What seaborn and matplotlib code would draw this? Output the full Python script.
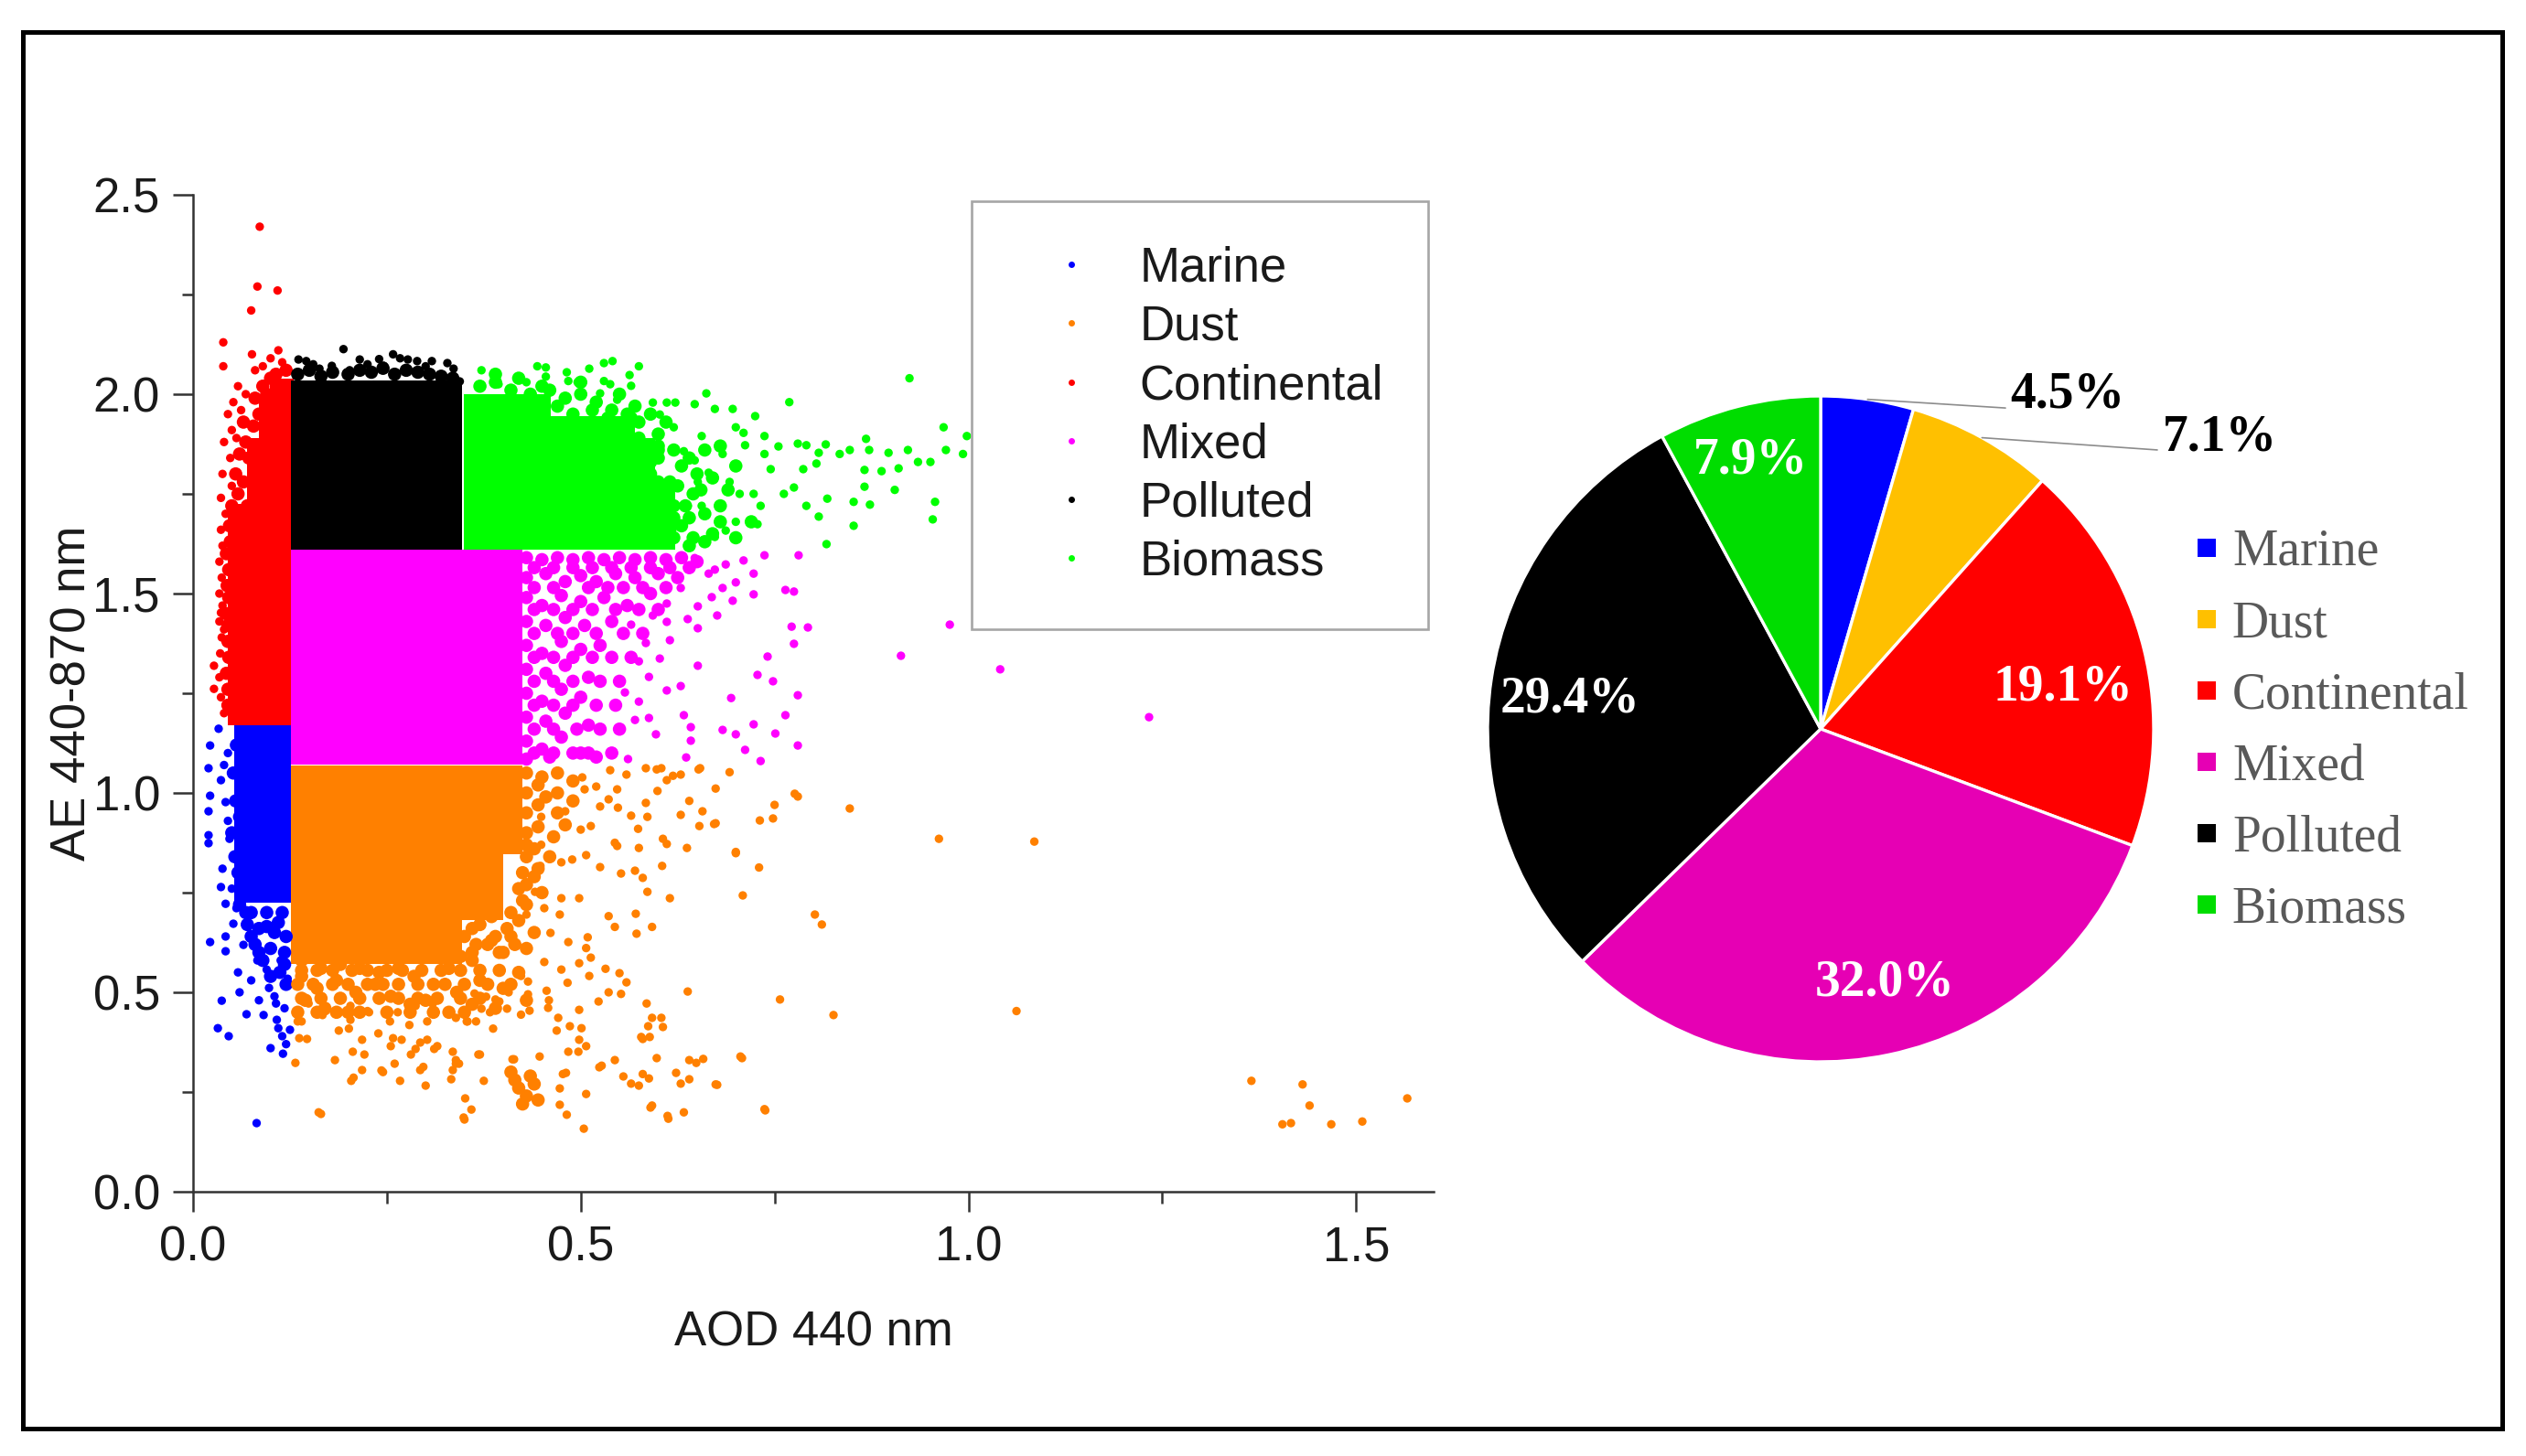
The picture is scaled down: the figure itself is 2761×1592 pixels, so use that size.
import matplotlib
matplotlib.use("Agg")
import numpy as np
import matplotlib.pyplot as plt
from matplotlib.lines import Line2D
from matplotlib.patches import Rectangle
from matplotlib.ticker import MultipleLocator
import pandas as pd
import seaborn as sns

# ---------------- data ----------------
classes = ["Marine", "Dust", "Continental", "Mixed", "Polluted", "Biomass"]
pie_share = [4.5, 7.1, 19.1, 32.0, 29.4, 7.9]
pie_text = ["4.5%", "7.1%", "19.1%", "32.0%", "29.4%", "7.9%"]
x_ticks = [0.0, 0.5, 1.0, 1.5]
y_ticks = [0.0, 0.5, 1.0, 1.5, 2.0, 2.5]

marine_core = [([0.068, 0.093, 0.111], [1.14, 1.085, 1.03, 0.975, 0.92, 0.865, 0.81, 0.755])]
continental_core = [([0.06, 0.085, 0.111], [1.20, 1.255, 1.31, 1.365, 1.42, 1.475, 1.53, 1.585, 1.64, 1.695]),
                    ([0.085, 0.111], [1.75, 1.805, 1.86]),
                    ([0.1, 0.114], [1.915, 1.97]),
                    ([0.114], [2.01])]
polluted_core = [([0.142, 0.169, 0.196, 0.223, 0.25, 0.277, 0.304, 0.332],
                  [1.64, 1.695, 1.75, 1.805, 1.86, 1.915, 1.97, 2.005])]
biomass_core = [([0.365, 0.392, 0.419, 0.446, 0.473, 0.5, 0.527, 0.554, 0.58], [1.64, 1.695, 1.75, 1.805, 1.86]),
                ([0.365, 0.392, 0.419, 0.446, 0.473, 0.5, 0.527, 0.554], [1.915]),
                ([0.365, 0.392, 0.419, 0.446], [1.97]),
                ([0.607], [1.64, 1.695, 1.75])]
mixed_core = [([0.142, 0.169, 0.196, 0.223, 0.25, 0.277, 0.304, 0.331, 0.358, 0.385, 0.41],
               [1.10, 1.155, 1.21, 1.265, 1.32, 1.375, 1.43, 1.485, 1.54, 1.58])]
dust_core = [([0.142, 0.169, 0.196, 0.223, 0.25, 0.277, 0.304, 0.331, 0.358, 0.385, 0.41], [1.04, 0.985, 0.93, 0.875]),
             ([0.142, 0.169, 0.196, 0.223, 0.25, 0.277, 0.304, 0.331, 0.358, 0.385], [0.82, 0.765, 0.71]),
             ([0.142, 0.169, 0.196, 0.223, 0.25, 0.277, 0.304, 0.331], [0.655, 0.60])]

# textured (medium density) zones
marine_dense = [(0.056, 1.12), (0.052, 1.05), (0.055, 0.98), (0.05, 0.9), (0.054, 0.84), (0.06, 0.72), (0.075, 0.70),
                (0.095, 0.70), (0.115, 0.70), (0.085, 0.66), (0.105, 0.65), (0.12, 0.64), (0.07, 0.67), (0.1, 0.61),
                (0.118, 0.6), (0.09, 0.58), (0.112, 0.55), (0.12, 0.52), (0.08, 0.62), (0.065, 0.77), (0.058, 0.8),
                (0.06, 0.94), (0.062, 1.0), (0.075, 0.64), (0.095, 0.665), (0.11, 0.675), (0.118, 0.57),
                (0.1, 0.54), (0.085, 0.6), (0.068, 0.7)]
continental_dense = [(0.045, 1.22), (0.043, 1.3), (0.045, 1.38), (0.042, 1.45), (0.044, 1.52), (0.043, 1.6),
                     (0.047, 1.67), (0.05, 1.72), (0.058, 1.75), (0.065, 1.78), (0.055, 1.8), (0.06, 1.85),
                     (0.068, 1.88), (0.072, 1.84), (0.078, 1.92), (0.085, 1.95), (0.08, 1.99), (0.09, 2.02),
                     (0.095, 2.0), (0.1, 2.04), (0.107, 2.05), (0.12, 2.06), (0.065, 1.93), (0.07, 1.72),
                     (0.045, 1.26), (0.046, 1.34), (0.045, 1.42), (0.046, 1.49), (0.046, 1.56), (0.048, 1.63)]
polluted_dense = [(0.135, 2.05), (0.15, 2.06), (0.165, 2.045), (0.18, 2.055), (0.2, 2.05), (0.215, 2.06),
                  (0.23, 2.055), (0.245, 2.065), (0.26, 2.05), (0.275, 2.06), (0.29, 2.055), (0.305, 2.05),
                  (0.32, 2.045), (0.335, 2.04)]
biomass_dense = [(0.37, 2.02), (0.39, 2.03), (0.41, 2.01), (0.435, 2.0), (0.46, 2.01), (0.48, 1.99), (0.5, 2.0),
                 (0.52, 1.98), (0.54, 1.96), (0.56, 1.95), (0.575, 1.93), (0.6, 1.9), (0.62, 1.86), (0.63, 1.82),
                 (0.625, 1.77), (0.635, 1.72), (0.63, 1.67), (0.645, 1.64), (0.66, 1.7), (0.655, 1.76), (0.65, 1.8),
                 (0.6, 1.84), (0.59, 1.8), (0.67, 1.65), (0.68, 1.68), (0.61, 1.93), (0.615, 1.66), (0.64, 1.69),
                 (0.62, 1.72), (0.645, 1.75), (0.615, 1.78), (0.64, 1.84), (0.66, 1.86), (0.6, 1.87), (0.59, 1.95),
                 (0.57, 1.97), (0.55, 2.0), (0.5, 2.03), (0.45, 2.02), (0.42, 2.04), (0.39, 2.05), (0.68, 1.72),
                 (0.69, 1.76), (0.67, 1.79), (0.7, 1.82), (0.68, 1.87), (0.7, 1.64), (0.72, 1.68), (0.66, 1.63),
                 (0.64, 1.62), (0.47, 1.97), (0.49, 1.95), (0.515, 1.96), (0.535, 1.94), (0.555, 1.92),
                 (0.59, 1.83), (0.6, 1.78), (0.575, 1.89), (0.565, 1.94), (0.6, 1.86), (0.62, 1.64), (0.62, 1.69)]
mixed_dense = [(0.43, 1.59), (0.45, 1.585), (0.47, 1.59), (0.49, 1.585), (0.51, 1.59), (0.53, 1.585), (0.55, 1.59),
               (0.57, 1.585), (0.59, 1.59), (0.61, 1.585), (0.63, 1.59), (0.65, 1.58), (0.43, 1.54), (0.455, 1.55),
               (0.48, 1.53), (0.5, 1.545), (0.52, 1.53), (0.545, 1.55), (0.57, 1.54), (0.6, 1.55), (0.625, 1.54),
               (0.43, 1.49), (0.45, 1.47), (0.475, 1.495), (0.5, 1.48), (0.53, 1.49), (0.56, 1.47), (0.59, 1.5),
               (0.43, 1.43), (0.455, 1.42), (0.48, 1.44), (0.505, 1.42), (0.54, 1.43), (0.43, 1.37), (0.45, 1.35),
               (0.475, 1.38), (0.5, 1.36), (0.525, 1.37), (0.43, 1.31), (0.455, 1.3), (0.48, 1.32), (0.51, 1.29),
               (0.43, 1.25), (0.45, 1.23), (0.475, 1.26), (0.5, 1.24), (0.43, 1.19), (0.455, 1.18), (0.48, 1.2),
               (0.51, 1.17), (0.43, 1.13), (0.45, 1.11), (0.475, 1.14), (0.5, 1.1), (0.43, 1.085), (0.52, 1.09),
               (0.46, 1.09),
               (0.44, 1.565), (0.465, 1.565), (0.49, 1.565), (0.515, 1.565), (0.54, 1.565), (0.565, 1.565),
               (0.59, 1.565), (0.615, 1.565), (0.64, 1.565), (0.44, 1.515), (0.465, 1.515), (0.51, 1.515),
               (0.535, 1.515), (0.555, 1.515), (0.58, 1.515), (0.61, 1.515), (0.44, 1.46), (0.465, 1.46),
               (0.49, 1.46), (0.515, 1.46), (0.545, 1.46), (0.575, 1.46), (0.6, 1.46), (0.44, 1.40), (0.47, 1.40),
               (0.49, 1.40), (0.52, 1.40), (0.555, 1.40), (0.58, 1.40), (0.44, 1.34), (0.465, 1.34), (0.49, 1.34),
               (0.515, 1.34), (0.54, 1.34), (0.565, 1.34), (0.44, 1.28), (0.465, 1.28), (0.49, 1.28),
               (0.525, 1.28), (0.55, 1.28), (0.44, 1.22), (0.465, 1.22), (0.49, 1.22), (0.52, 1.22), (0.545, 1.22),
               (0.44, 1.16), (0.465, 1.16), (0.495, 1.16), (0.525, 1.16), (0.55, 1.16), (0.44, 1.10), (0.465, 1.10),
               (0.49, 1.10), (0.51, 1.10), (0.54, 1.10)]
dust_dense = [(0.43, 1.05), (0.45, 1.04), (0.47, 1.05), (0.43, 1.0), (0.455, 0.99), (0.43, 0.95), (0.43, 0.9),
              (0.43, 0.84), (0.44, 0.79), (0.42, 0.76), (0.405, 0.66), (0.36, 0.58), (0.33, 0.56), (0.38, 0.62),
              (0.4, 0.6), (0.35, 0.64), (0.14, 0.54), (0.16, 0.51), (0.185, 0.53), (0.21, 0.5), (0.235, 0.52),
              (0.255, 0.49), (0.28, 0.47), (0.3, 0.48), (0.145, 0.48), (0.17, 0.46), (0.2, 0.45), (0.33, 0.45),
              (0.36, 0.47), (0.39, 0.46), (0.43, 0.48), (0.14, 0.58), (0.165, 0.56), (0.19, 0.57), (0.215, 0.56),
              (0.24, 0.55), (0.265, 0.56), (0.285, 0.54), (0.31, 0.52), (0.34, 0.5), (0.37, 0.53), (0.4, 0.51),
              (0.42, 0.55), (0.42, 0.26), (0.43, 0.24), (0.415, 0.28), (0.44, 0.27), (0.425, 0.22), (0.445, 0.23),
              (0.41, 0.3), (0.435, 0.29),
              (0.14, 0.555), (0.16, 0.555), (0.18, 0.555), (0.205, 0.555), (0.225, 0.555), (0.25, 0.555),
              (0.27, 0.555), (0.295, 0.555), (0.32, 0.555), (0.345, 0.555), (0.37, 0.555), (0.395, 0.555),
              (0.135, 0.52), (0.155, 0.52), (0.18, 0.52), (0.2, 0.52), (0.225, 0.52), (0.245, 0.52), (0.265, 0.52),
              (0.29, 0.52), (0.325, 0.52), (0.35, 0.52), (0.38, 0.52), (0.41, 0.52), (0.14, 0.485), (0.165, 0.485),
              (0.19, 0.485), (0.215, 0.485), (0.24, 0.485), (0.265, 0.485), (0.29, 0.485), (0.315, 0.485),
              (0.345, 0.485), (0.37, 0.485), (0.135, 0.45), (0.16, 0.45), (0.185, 0.45), (0.215, 0.45),
              (0.25, 0.45), (0.28, 0.45), (0.31, 0.45), (0.35, 0.45), (0.365, 0.62), (0.39, 0.64), (0.415, 0.62),
              (0.37, 0.67), (0.395, 0.6), (0.42, 0.68), (0.44, 0.65), (0.445, 1.02), (0.47, 1.0), (0.49, 1.03),
              (0.445, 0.97), (0.47, 0.95), (0.445, 0.915), (0.465, 0.89), (0.44, 0.86), (0.46, 0.84),
              (0.445, 0.81), (0.43, 0.77), (0.45, 0.75), (0.43, 0.72), (0.49, 0.98), (0.48, 0.92),
              (0.36, 0.6), (0.385, 0.63), (0.41, 0.64), (0.36, 0.66), (0.385, 0.69), (0.41, 0.7), (0.43, 0.61),
              (0.345, 0.59), (0.425, 0.73), (0.425, 0.8), (0.43, 0.87)]

# scattered points
marine_sparse = [(0.022, 1.119), (0.033, 1.161), (0.02, 1.062), (0.036, 1.032), (0.022, 0.993), (0.042, 0.977),
                 (0.02, 0.954), (0.02, 0.894), (0.02, 0.874), (0.047, 0.885), (0.038, 0.81), (0.036, 0.764),
                 (0.042, 0.722), (0.022, 0.626), (0.042, 0.603), (0.042, 0.64), (0.056, 0.711), (0.052, 0.672),
                 (0.082, 0.172), (0.032, 0.41), (0.046, 0.39), (0.037, 0.479), (0.069, 0.445), (0.091, 0.443),
                 (0.116, 0.346), (0.115, 0.39), (0.108, 0.431), (0.125, 0.406), (0.107, 0.472), (0.098, 0.511),
                 (0.122, 0.534), (0.083, 0.58), (0.065, 0.619), (0.095, 0.557), (0.113, 0.58), (0.045, 1.1),
                 (0.04, 1.07), (0.045, 0.93), (0.05, 0.76), (0.058, 0.55), (0.075, 0.53), (0.105, 0.49),
                 (0.118, 0.46), (0.12, 0.37), (0.11, 0.41), (0.1, 0.36), (0.085, 0.48), (0.06, 0.5)]
continental_sparse = [(0.086, 2.42), (0.083, 2.27), (0.109, 2.26), (0.075, 2.21), (0.039, 2.13), (0.039, 2.07),
                      (0.076, 2.10), (0.11, 2.11), (0.08, 2.06), (0.052, 1.98), (0.045, 1.95), (0.05, 1.91),
                      (0.04, 1.88), (0.048, 1.84), (0.038, 1.8), (0.05, 1.77), (0.036, 1.74), (0.042, 1.7),
                      (0.036, 1.66), (0.038, 1.62), (0.034, 1.58), (0.037, 1.54), (0.036, 1.452), (0.04, 1.41),
                      (0.034, 1.5), (0.038, 1.47), (0.034, 1.43), (0.037, 1.39), (0.035, 1.35), (0.027, 1.319),
                      (0.027, 1.261), (0.034, 1.29), (0.036, 1.24), (0.04, 1.2), (0.058, 2.02), (0.062, 1.96),
                      (0.068, 2.0), (0.056, 1.89), (0.09, 2.07), (0.1, 2.09), (0.115, 2.08)]
polluted_sparse = [(0.194, 2.113), (0.146, 2.083), (0.136, 2.087), (0.215, 2.087), (0.24, 2.088), (0.258, 2.1),
                   (0.267, 2.09), (0.277, 2.087), (0.289, 2.083), (0.308, 2.083), (0.328, 2.078), (0.336, 2.064),
                   (0.179, 2.071), (0.163, 2.064), (0.202, 2.06), (0.246, 2.071), (0.344, 2.032), (0.225, 2.075),
                   (0.3, 2.07), (0.155, 2.075)]
biomass_sparse = [(0.924, 2.04), (0.769, 1.98), (0.725, 1.945), (0.968, 1.917), (0.971, 1.86), (0.993, 1.85),
                  (0.998, 1.895), (0.957, 1.73), (0.954, 1.686), (0.951, 1.83), (0.935, 1.83), (0.922, 1.86),
                  (0.91, 1.814), (0.905, 1.76), (0.897, 1.853), (0.888, 1.807), (0.872, 1.86), (0.866, 1.81),
                  (0.868, 1.888), (0.873, 1.723), (0.866, 1.768), (0.852, 1.73), (0.852, 1.67), (0.847, 1.86),
                  (0.834, 1.85), (0.816, 1.874), (0.807, 1.853), (0.804, 1.826), (0.818, 1.738), (0.817, 1.624),
                  (0.807, 1.693), (0.791, 1.872), (0.78, 1.876), (0.787, 1.812), (0.775, 1.766), (0.791, 1.72),
                  (0.762, 1.75), (0.755, 1.869), (0.737, 1.895), (0.737, 1.85), (0.745, 1.812), (0.732, 1.72),
                  (0.723, 1.75), (0.728, 1.674), (0.71, 1.903), (0.7, 1.917), (0.696, 1.963), (0.712, 1.872),
                  (0.705, 1.75), (0.692, 1.78), (0.7, 1.68), (0.687, 1.658), (0.673, 1.642), (0.683, 1.85),
                  (0.673, 1.963), (0.662, 2.002), (0.647, 1.975), (0.656, 1.895), (0.647, 1.834), (0.633, 1.857),
                  (0.665, 1.803), (0.651, 1.78), (0.638, 1.72), (0.656, 1.72), (0.629, 1.674), (0.62, 1.917),
                  (0.611, 1.979), (0.593, 1.979), (0.602, 1.949), (0.622, 1.979), (0.541, 2.083), (0.53, 2.078),
                  (0.575, 2.07), (0.511, 2.064), (0.563, 2.048), (0.482, 2.055), (0.444, 2.07), (0.455, 2.067),
                  (0.43, 2.03), (0.455, 2.044), (0.496, 2.03), (0.53, 2.033), (0.538, 2.025), (0.565, 2.021),
                  (0.372, 2.06), (0.394, 2.025), (0.525, 2.002), (0.547, 1.986), (0.484, 2.033)]
mixed_sparse = [(0.781, 1.596), (0.737, 1.596), (0.723, 1.55), (0.723, 1.498), (0.764, 1.509), (0.775, 1.505),
                (0.772, 1.417), (0.793, 1.415), (0.775, 1.374), (0.741, 1.342), (0.728, 1.296), (0.748, 1.28),
                (0.78, 1.245), (0.694, 1.238), (0.764, 1.195), (0.723, 1.172), (0.751, 1.149), (0.78, 1.119),
                (0.712, 1.108), (0.732, 1.08), (0.683, 1.158), (0.7, 1.147), (0.642, 1.165), (0.633, 1.195),
                (0.642, 1.131), (0.636, 1.089), (0.597, 1.147), (0.588, 1.188), (0.561, 1.085), (0.651, 1.319),
                (0.629, 1.268), (0.611, 1.257), (0.976, 1.422), (0.913, 1.344), (1.041, 1.31), (0.651, 1.413),
                (0.676, 1.445), (0.651, 1.468), (0.7, 1.528), (0.696, 1.482), (0.687, 1.573), (0.71, 1.583),
                (0.665, 1.55), (0.669, 1.491), (0.638, 1.436), (0.615, 1.383), (0.602, 1.337), (0.588, 1.291),
                (0.575, 1.229), (0.584, 1.376), (0.575, 1.33), (0.565, 1.422), (0.557, 1.252), (0.57, 1.183),
                (0.629, 1.514), (0.611, 1.475), (0.611, 1.429), (0.593, 1.445), (0.647, 1.589), (0.673, 1.56),
                (0.683, 1.514), (1.233, 1.19)]
dust_sparse = [(1.365, 0.278), (1.431, 0.269), (1.44, 0.216), (1.405, 0.169), (1.416, 0.172), (1.468, 0.169),
               (1.508, 0.176), (1.566, 0.234), (1.085, 0.878), (0.962, 0.885), (1.062, 0.453), (0.847, 0.961),
               (0.802, 0.695), (0.811, 0.67), (0.757, 0.482), (0.826, 0.443), (0.737, 0.207), (0.706, 0.339),
               (0.674, 0.269), (0.638, 0.502), (0.633, 0.199), (0.612, 0.19), (0.592, 0.216), (0.504, 0.158),
               (0.349, 0.186), (0.162, 0.199), (0.78, 0.991), (0.75, 0.97), (0.731, 0.931), (0.7, 0.849),
               (0.674, 1.011), (0.692, 1.052), (0.654, 1.062), (0.674, 0.924), (0.657, 0.954), (0.653, 0.917),
               (0.629, 0.945), (0.637, 0.862), (0.606, 0.885), (0.611, 0.872), (0.605, 0.817), (0.615, 0.736),
               (0.586, 0.752), (0.571, 0.697), (0.572, 0.647), (0.536, 0.691), (0.708, 0.335), (0.738, 0.204),
               (0.676, 0.268), (0.658, 0.333), (0.649, 0.323), (0.64, 0.282), (0.629, 0.271), (0.623, 0.298),
               (0.613, 0.183), (0.59, 0.211), (0.588, 0.284), (0.575, 0.266), (0.565, 0.271), (0.555, 0.289),
               (0.524, 0.312), (0.507, 0.245), (0.482, 0.193), (0.473, 0.218), (0.473, 0.259), (0.481, 0.298),
               (0.598, 0.335), (0.585, 0.472), (0.587, 0.415), (0.604, 0.436), (0.606, 0.413), (0.578, 0.388),
               (0.589, 0.388), (0.55, 0.548), (0.559, 0.525), (0.552, 0.496), (0.536, 0.5), (0.523, 0.477),
               (0.498, 0.456), (0.471, 0.436), (0.469, 0.404), (0.486, 0.415), (0.501, 0.41), (0.498, 0.381),
               (0.484, 0.351), (0.497, 0.351), (0.527, 0.316), (0.412, 0.332), (0.359, 0.206), (0.35, 0.181),
               (0.37, 0.344), (0.343, 0.321), (0.354, 0.427), (0.365, 0.427), (0.383, 0.45), (0.395, 0.477),
               (0.434, 0.454), (0.458, 0.461), (0.407, 0.5), (0.378, 0.489), (0.43, 0.695), (0.473, 0.695),
               (0.498, 0.736), (0.475, 0.736), (0.453, 0.711), (0.441, 0.752), (0.461, 0.649), (0.484, 0.626),
               (0.509, 0.638), (0.513, 0.587), (0.498, 0.573), (0.475, 0.557), (0.511, 0.541), (0.448, 0.817),
               (0.475, 0.826), (0.489, 0.833), (0.507, 0.844), (0.525, 0.814), (0.552, 0.798), (0.57, 0.805),
               (0.575, 0.862), (0.547, 0.867), (0.565, 0.943), (0.586, 0.94), (0.584, 0.975), (0.548, 0.963),
               (0.536, 0.984), (0.525, 0.966), (0.505, 1.009), (0.52, 1.016), (0.547, 1.009), (0.599, 1.005),
               (0.559, 1.046), (0.502, 1.039), (0.538, 1.057), (0.584, 1.062), (0.604, 1.062), (0.619, 1.043),
               (0.611, 1.032), (0.629, 1.046), (0.513, 0.917), (0.5, 0.908), (0.48, 0.954), (0.449, 0.94),
               (0.43, 0.954), (0.449, 0.87), (0.165, 0.195), (0.132, 0.323), (0.137, 0.385), (0.14, 0.427),
               (0.149, 0.472), (0.167, 0.443), (0.188, 0.404), (0.203, 0.431), (0.218, 0.381), (0.239, 0.397),
               (0.254, 0.427), (0.269, 0.381), (0.281, 0.344), (0.293, 0.374), (0.311, 0.358), (0.302, 0.427),
               (0.287, 0.466), (0.264, 0.45), (0.227, 0.45), (0.203, 0.466), (0.335, 0.351), (0.353, 0.427),
               (0.372, 0.459), (0.39, 0.482), (0.405, 0.459), (0.432, 0.495), (0.456, 0.504), (0.432, 0.527),
               (0.414, 0.332), (0.368, 0.344), (0.335, 0.305), (0.333, 0.282), (0.3, 0.266), (0.293, 0.305),
               (0.26, 0.321), (0.245, 0.3), (0.218, 0.305), (0.204, 0.278), (0.206, 0.351), (0.221, 0.344),
               (0.258, 0.385), (0.287, 0.358), (0.302, 0.381), (0.339, 0.321), (0.7, 0.852), (0.672, 0.922),
               (0.776, 0.998), (0.748, 0.936), (0.73, 0.813), (0.709, 0.743), (0.64, 0.98), (0.652, 1.059),
               (0.598, 1.059), (0.574, 0.91), (0.544, 0.875), (0.58, 0.787), (0.592, 0.664), (0.544, 0.664),
               (0.507, 0.611), (0.532, 0.559), (0.592, 0.436), (0.58, 0.383), (0.64, 0.33), (0.58, 0.295),
               (0.544, 0.33), (0.507, 0.365), (0.477, 0.295), (0.447, 0.339), (0.351, 0.234), (0.375, 0.278),
               (0.339, 0.33), (0.315, 0.365), (0.297, 0.313), (0.267, 0.278), (0.243, 0.304), (0.207, 0.286),
               (0.183, 0.33), (0.147, 0.383), (0.135, 0.427), (0.171, 0.453), (0.201, 0.409), (0.225, 0.453),
               (0.255, 0.365), (0.279, 0.418), (0.309, 0.471), (0.339, 0.436), (0.363, 0.497), (0.387, 0.409),
               (0.423, 0.444), (0.459, 0.48), (0.483, 0.524), (0.453, 0.576), (0.423, 0.541)]

# ---------------- styles ----------------
scatter_colors = {"Marine": "#0000FF", "Dust": "#FF8000", "Continental": "#FF0000",
                  "Mixed": "#FF00FF", "Polluted": "#000000", "Biomass": "#00FF00"}
pie_colors = ["#0000FF", "#FFC000", "#FF0000", "#E600B4", "#000000", "#00DD00"]

cores = {"Marine": marine_core, "Dust": dust_core, "Continental": continental_core,
         "Mixed": mixed_core, "Polluted": polluted_core, "Biomass": biomass_core}
denses = {"Marine": marine_dense, "Dust": dust_dense, "Continental": continental_dense,
          "Mixed": mixed_dense, "Polluted": polluted_dense, "Biomass": biomass_dense}
sparses = {"Marine": marine_sparse, "Dust": dust_sparse, "Continental": continental_sparse,
           "Mixed": mixed_sparse, "Polluted": polluted_sparse, "Biomass": biomass_sparse}

records = []
for cls in classes:
    for aods, aes in cores[cls]:
        for a in aods:
            for e in aes:
                records.append((cls, "core", a, e))
    for a, e in denses[cls]:
        records.append((cls, "dense", a, e))
    for a, e in sparses[cls]:
        records.append((cls, "sparse", a, e))
df = pd.DataFrame(records, columns=["type", "layer", "aod", "ae"])

sns.set_theme(style="ticks")
plt.rcParams["font.family"] = ["Liberation Sans", "DejaVu Sans"]

W, H = 2761, 1592
fig = plt.figure(figsize=(W / 100, H / 100), dpi=100)
fig.patch.set_facecolor("white")

# ---------------- scatter ----------------
ax = fig.add_axes([211 / W, 1 - 1303 / H, (1567 - 211) / W, (1303 - 213) / H])
layer_style = {"core": dict(marker="s", s=350), "dense": dict(marker="o", s=110), "sparse": dict(marker="o", s=45)}
for layer in ["core", "dense", "sparse"]:
    sub = df[df["layer"] == layer]
    sns.scatterplot(data=sub, x="aod", y="ae", hue="type", hue_order=classes, palette=scatter_colors,
                    linewidth=0, edgecolor="none", legend=False, ax=ax, **layer_style[layer])

ax.set_xlim(0, 1.6)
ax.set_ylim(0, 2.5)
ax.set_xticks(x_ticks)
ax.set_xticklabels([f"{v:.1f}" for v in x_ticks])
ax.set_yticks(y_ticks)
ax.set_yticklabels([f"{v:.1f}" for v in y_ticks])
ax.xaxis.set_minor_locator(MultipleLocator(0.25))
ax.yaxis.set_minor_locator(MultipleLocator(0.25))
for side in ["top", "right"]:
    ax.spines[side].set_visible(False)
for side in ["left", "bottom"]:
    ax.spines[side].set_color("#333333")
    ax.spines[side].set_linewidth(1.8)
ax.tick_params(which="major", direction="out", length=16, width=1.8, color="#333333",
               labelsize=38, labelcolor="#1a1a1a", pad=10)
ax.tick_params(which="minor", direction="out", length=9, width=1.8, color="#333333")
ax.set_xlabel("AOD 440 nm", fontsize=38, color="#1a1a1a", labelpad=31)
ax.set_ylabel("AE 440-870 nm", fontsize=38, color="#1a1a1a", labelpad=-2)
ax.set_facecolor("white")

handles = [Line2D([], [], marker="o", linestyle="none", markersize=5,
                  markerfacecolor=scatter_colors[c], markeredgewidth=0) for c in classes]
leg = ax.legend(handles, classes, loc="upper left", bbox_to_anchor=(1062 / W, 1 - 220 / H),
                bbox_transform=fig.transFigure, fontsize=38, frameon=True, fancybox=False,
                borderpad=0.92, borderaxespad=0, handlelength=2.3, handletextpad=0.26,
                labelspacing=0.27, framealpha=1)
leg.get_frame().set_edgecolor("#A6A6A6")
leg.get_frame().set_linewidth(1.9)
for t in leg.get_texts():
    t.set_color("#1a1a1a")

# ---------------- pie ----------------
pr = 364
pax = fig.add_axes([(1990 - pr) / W, 1 - (797 + pr) / H, 2 * pr / W, 2 * pr / H])
wedges, _ = pax.pie(pie_share, colors=pie_colors, startangle=90, counterclock=False,
                    wedgeprops=dict(edgecolor="white", linewidth=2.4))
pax.set_xlim(-1, 1)
pax.set_ylim(-1, 1)
pax.set_aspect("equal")
pax.axis("off")

label_pos = {"Marine": (0.742, 1.005), "Dust": (1.20, 0.876), "Continental": (0.728, 0.126),
             "Mixed": (0.192, -0.761), "Polluted": (-0.753, 0.088), "Biomass": (-0.209, 0.805)}
leader_end = {"Marine": (0.555, 0.964), "Dust": (1.011, 0.838)}
serif = ["Liberation Serif", "DejaVu Serif"]
for w, cls, txt in zip(wedges, classes, pie_text):
    x, y = label_pos[cls]
    outside = cls in leader_end
    pax.text(x, y, txt, ha="center", va="center", fontsize=40, fontweight="bold",
             family=serif, color="black" if outside else "white")
    if outside:
        th = np.deg2rad((w.theta1 + w.theta2) / 2)
        ex, ey = leader_end[cls]
        pax.plot([np.cos(th), ex], [np.sin(th), ey], color="#8C8C8C", lw=1.2, clip_on=False)

phandles = [Line2D([], [], marker="s", linestyle="none", markersize=15,
                   markerfacecolor=c, markeredgewidth=0) for c in pie_colors]
pleg = pax.legend(phandles, classes, loc="upper left", bbox_to_anchor=(2401 / W, 1 - 578 / H),
                  bbox_transform=fig.transFigure, frameon=False, borderpad=0, borderaxespad=0,
                  handlelength=0.4, handletextpad=0.3, labelspacing=0.47,
                  prop=dict(family=serif, size=40))
for t in pleg.get_texts():
    t.set_color("#595959")

# outer frame
fig.patches.append(Rectangle((25 / W, 1 - 1562 / H), (2735 - 25) / W, (1562 - 35) / H,
                             transform=fig.transFigure, fill=False, edgecolor="black", linewidth=3.6))

fig.savefig("out.png", dpi=100, facecolor="white")
